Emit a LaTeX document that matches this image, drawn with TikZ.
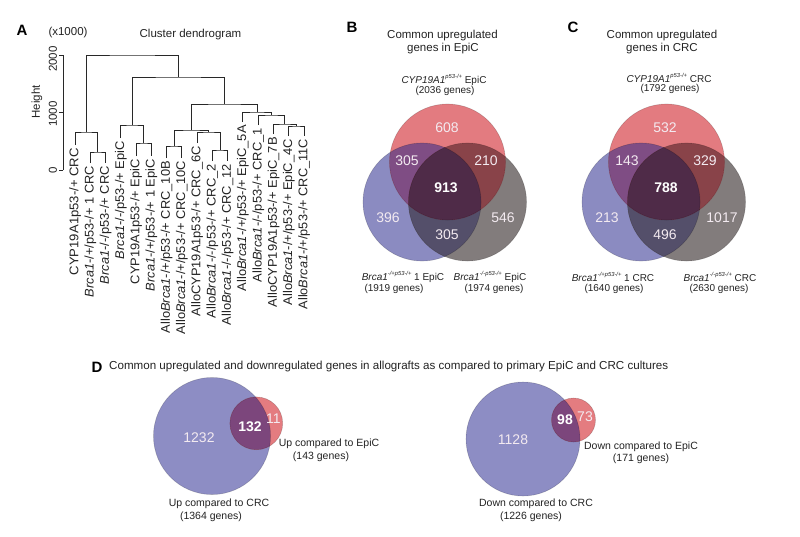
\documentclass[tikz,border=0pt]{standalone}
\usepackage{graphicx}
\usepackage{fontspec}
\setmainfont{Liberation Sans}
\definecolor{vBlue}{RGB}{139,139,193}
\definecolor{vRed}{RGB}{227,123,128}
\definecolor{vGray}{RGB}{130,124,124}
\definecolor{vBR}{RGB}{127,77,132}
\definecolor{vRG}{RGB}{137,67,73}
\definecolor{vBG}{RGB}{84,79,106}
\definecolor{vAll}{RGB}{79,43,72}
\definecolor{dBlue}{RGB}{141,141,196}
\definecolor{dRed}{RGB}{228,124,128}
\definecolor{dBR}{RGB}{124,70,124}
\definecolor{numtxt}{RGB}{243,234,240}
\definecolor{treecol}{RGB}{40,40,40}
\definecolor{txtcol}{RGB}{35,35,35}
\newcommand\supit[1]{\raisebox{0.42em}{\fontsize{5.8}{6}\selectfont\itshape #1}}
\newcommand\leaftext[2]{\resizebox{#1pt}{\height}{#2}}
\tikzset{
  every node/.style={inner sep=0pt, text=txtcol},
  panel/.style={font=\fontsize{15}{16}\selectfont\bfseries, text=black},
  ttl/.style={font=\fontsize{11.5}{13}\selectfont},
  axlbl/.style={font=\fontsize{11.5}{12}\selectfont, rotate=90},
  leaflbl/.style={rotate=90, anchor=east, font=\fontsize{12.6}{13}\selectfont},
  tree/.style={line width=1pt, draw=treecol},
  vlbl/.style={font=\fontsize{10}{11}\selectfont},
  dlbl/.style={font=\fontsize{10.5}{12}\selectfont},
  num/.style={font=\fontsize{14}{15}\selectfont, text=numtxt},
  bnum/.style={font=\fontsize{14}{15}\selectfont\bfseries, text=white},
  vedge/.style={draw=black, draw opacity=0.18, line width=0.6pt},
}
\newcommand\drawVennThree[1]{%
  \fill[vBlue] (#1l) circle (59);
  \fill[vGray] (#1r) circle (59);
  \fill[vRed] (#1t) circle (58);
  \begin{scope}\clip (#1l) circle (59); \fill[vBG] (#1r) circle (59);\end{scope}
  \begin{scope}\clip (#1l) circle (59); \fill[vBR] (#1t) circle (58);\end{scope}
  \begin{scope}\clip (#1r) circle (59); \fill[vRG] (#1t) circle (58);\end{scope}
  \begin{scope}\clip (#1l) circle (59); \clip (#1r) circle (59); \fill[vAll] (#1t) circle (58);\end{scope}
  \draw[vedge] (#1l) circle (59);
  \draw[vedge] (#1r) circle (59);
  \draw[vedge] (#1t) circle (58);
}
\begin{document}
\begin{tikzpicture}[x=1pt,y=-1pt]
\useasboundingbox (0,0) rectangle (800,536);
\fill[white] (0,0) rectangle (800,536);

% ================= Panel A =================
\node[panel] (pA) at (22,30) {A};
\node[ttl] (x1000) at (68,33) {(x1000)};
\node[ttl] (tA) at (190.5,35) {Cluster dendrogram};
\coordinate (ax0) at (63,170);
\coordinate (ax1) at (63,112.5);
\coordinate (ax2) at (63,55);
\draw[line width=0.8pt, treecol] (ax2) -- (ax0);
\foreach \c in {ax0,ax1,ax2} \draw[line width=0.8pt, treecol] (\c) -- ++(-4,0);
\node[axlbl] (tk0) at (53,170) {0};
\node[axlbl] (tk1) at (53,114) {1000};
\node[axlbl] (tk2) at (53,59) {2000};
\node[axlbl] (hgt) at (37,102) {Height};

% leaf tips
\coordinate (t0) at (75,145);
\coordinate (t1) at (90.27,163);
\coordinate (t2) at (105.54,163);
\coordinate (t3) at (120.81,138);
\coordinate (t4) at (136.08,156);
\coordinate (t5) at (151.35,156);
\coordinate (t6) at (166.62,158);
\coordinate (t7) at (181.89,158);
\coordinate (t8) at (197.16,143);
\coordinate (t9) at (212.43,161);
\coordinate (t10) at (227.7,161);
\coordinate (t11) at (242.97,122);
\coordinate (t12) at (258.24,125);
\coordinate (t13) at (273.51,134);
\coordinate (t14) at (288.78,136);
\coordinate (t15) at (304.05,136);
% merges
\coordinate (ma) at (97.9,152);
\coordinate (mb) at (86.45,132);
\coordinate (mc) at (143.7,143);
\coordinate (md) at (132.26,125);
\coordinate (me) at (174.26,146);
\coordinate (mf) at (220.07,150);
\coordinate (mg) at (208.6,132);
\coordinate (mh) at (191.43,130);
\coordinate (mi) at (296.4,126);
\coordinate (mj) at (284.96,124);
\coordinate (mk) at (271.6,115);
\coordinate (ml) at (257.29,112);
\coordinate (mm) at (224.36,104);
\coordinate (mn) at (178.31,77);
\coordinate (mroot) at (132.38,55);

\draw[tree] (t1) |- (ma) -| (t2);
\draw[tree] (t0) |- (mb) -| (ma);
\draw[tree] (t4) |- (mc) -| (t5);
\draw[tree] (t3) |- (md) -| (mc);
\draw[tree] (t6) |- (me) -| (t7);
\draw[tree] (t9) |- (mf) -| (t10);
\draw[tree] (t8) |- (mg) -| (mf);
\draw[tree] (me) |- (mh) -| (mg);
\draw[tree] (t14) |- (mi) -| (t15);
\draw[tree] (t13) |- (mj) -| (mi);
\draw[tree] (t12) |- (mk) -| (mj);
\draw[tree] (t11) |- (ml) -| (mk);
\draw[tree] (mh) |- (mm) -| (ml);
\draw[tree] (md) |- (mn) -| (mm);
\draw[tree] (mb) |- (mroot) -| (mn);

\node[leaflbl] (lab0) at ([yshift=-3pt]t0) {\leaftext{127}{CYP19A1p53-/+ CRC}};
\node[leaflbl] (lab1) at ([yshift=-3pt]t1) {\leaftext{131}{\textit{Brca1}-/+/p53-/+ 1 CRC}};
\node[leaflbl] (lab2) at ([yshift=-3pt]t2) {\leaftext{118}{\textit{Brca1}-/-/p53-/+ CRC}};
\node[leaflbl] (lab3) at ([yshift=-3pt]t3) {\leaftext{118}{\textit{Brca1}-/-/p53-/+ EpiC}};
\node[leaflbl] (lab4) at ([yshift=-3pt]t4) {\leaftext{125}{CYP19A1p53-/+ EpiC}};
\node[leaflbl] (lab5) at ([yshift=-3pt]t5) {\leaftext{132}{\textit{Brca1}-/+/p53-/+ 1 EpiC}};
\node[leaflbl] (lab6) at ([yshift=-3pt]t6) {\leaftext{172}{Allo\textit{Brca1}-/+/p53-/+ CRC\_10B}};
\node[leaflbl] (lab7) at ([yshift=-3pt]t7) {\leaftext{173}{Allo\textit{Brca1}-/+/p53-/+ CRC\_10C}};
\node[leaflbl] (lab8) at ([yshift=-3pt]t8) {\leaftext{170}{AlloCYP19A1p53-/+ CRC\_6C}};
\node[leaflbl] (lab9) at ([yshift=-3pt]t9) {\leaftext{154}{Allo\textit{Brca1}-/-/p53-/+ CRC\_2}};
\node[leaflbl] (lab10) at ([yshift=-3pt]t10) {\leaftext{161}{Allo\textit{Brca1}-/-/p53-/+ CRC\_12}};
\node[leaflbl] (lab11) at ([yshift=-3pt]t11) {\leaftext{166}{Allo\textit{Brca1}-/+/p53-/+ EpiC\_5A}};
\node[leaflbl] (lab12) at ([yshift=-3pt]t12) {\leaftext{154}{Allo\textit{Brca1}-/-/p53-/+ CRC\_1}};
\node[leaflbl] (lab13) at ([yshift=-3pt]t13) {\leaftext{170}{AlloCYP19A1p53-/+ EpiC\_7B}};
\node[leaflbl] (lab14) at ([yshift=-3pt]t14) {\leaftext{166}{Allo\textit{Brca1}-/+/p53-/+ EpiC\_4C}};
\node[leaflbl] (lab15) at ([yshift=-3pt]t15) {\leaftext{170}{Allo\textit{Brca1}-/+/p53-/+ CRC\_11C}};

% ================= Panel B =================
\node[panel] (pB) at (352,27) {B};
\node[ttl] (tB1) at (442.5,36) {Common upregulated};
\node[ttl] (tB2) at (443,49) {genes in EpiC};
\node[vlbl] (sBt1) at (444,80) {\textit{CYP19A1}\supit{p53-/+} EpiC};
\node[vlbl] (sBt2) at (445,91) {(2036 genes)};
\coordinate (Bt) at (447.5,162);
\coordinate (Bl) at (422,202);
\coordinate (Br) at (467.5,202);
\drawVennThree{B}
\node[num] (nB1) at (447,128) {608};
\node[num] (nB2) at (407,161) {305};
\node[num] (nB3) at (486,161) {210};
\node[bnum] (nB4) at (446,188) {913};
\node[num] (nB5) at (388,218) {396};
\node[num] (nB6) at (503,218) {546};
\node[num] (nB7) at (447,235) {305};
\node[vlbl] (sBl1) at (403,277) {\textit{Brca1}\supit{-/+p53-/+} 1 EpiC};
\node[vlbl] (sBl2) at (394,289) {(1919 genes)};
\node[vlbl] (sBr1) at (490,277) {\textit{Brca1}\supit{-/-p53-/+} EpiC};
\node[vlbl] (sBr2) at (494,289) {(1974 genes)};

% ================= Panel C =================
\node[panel] (pC) at (573,27) {C};
\node[ttl] (tC1) at (662,36) {Common upregulated};
\node[ttl] (tC2) at (662,49) {genes in CRC};
\node[vlbl] (sCt1) at (669,78) {\textit{CYP19A1}\supit{p53-/+} CRC};
\node[vlbl] (sCt2) at (670,89) {(1792 genes)};
\coordinate (Ct) at (666.5,162);
\coordinate (Cl) at (641,202);
\coordinate (Cr) at (686.5,202);
\drawVennThree{C}
\node[num] (nC1) at (665,128) {532};
\node[num] (nC2) at (627,161) {143};
\node[num] (nC3) at (705,161) {329};
\node[bnum] (nC4) at (666,188) {788};
\node[num] (nC5) at (607,218) {213};
\node[num] (nC6) at (722,218) {1017};
\node[num] (nC7) at (665,235) {496};
\node[vlbl] (sCl1) at (613,277) {\textit{Brca1}\supit{-/+p53-/+} 1 CRC};
\node[vlbl] (sCl2) at (614,289) {(1640 genes)};
\node[vlbl] (sCr1) at (720,277) {\textit{Brca1}\supit{-/-p53-/+} CRC};
\node[vlbl] (sCr2) at (719,289) {(2630 genes)};

% ================= Panel D =================
\node[panel] (pD) at (97,367) {D};
\node[ttl, anchor=west, font=\fontsize{11.6}{12}\selectfont] (tD) at (109,366.5) {Common upregulated and downregulated genes in allografts as compared to primary EpiC and CRC cultures};
% left pair
\coordinate (D1b) at (212,436);
\coordinate (D1s) at (256.3,423.3);
\fill[dBlue] (D1b) circle (58.5);
\fill[dRed] (D1s) circle (26.4);
\begin{scope}\clip (D1b) circle (58.5); \fill[dBR] (D1s) circle (26.4);\end{scope}
\draw[vedge] (D1b) circle (58.5);
\draw[vedge] (D1s) circle (26.4);
\node[num] (nD1) at (199,438) {1232};
\node[bnum] (nD2) at (250,427) {132};
\node[num] (nD3) at (273.5,419) {11};
\node[dlbl] (sD1a) at (329,444) {Up compared to EpiC};
\node[dlbl] (sD1b) at (321,457) {(143 genes)};
\node[dlbl] (sD1c) at (219,504) {Up compared to CRC};
\node[dlbl] (sD1d) at (211,517) {(1364 genes)};
% right pair
\coordinate (D2b) at (523,439);
\coordinate (D2s) at (573.5,420);
\fill[dBlue] (D2b) circle (57);
\fill[dRed] (D2s) circle (22);
\begin{scope}\clip (D2b) circle (57); \fill[dBR] (D2s) circle (22);\end{scope}
\draw[vedge] (D2b) circle (57);
\draw[vedge] (D2s) circle (22);
\node[num] (nD4) at (513,440) {1128};
\node[bnum] (nD5) at (565,420) {98};
\node[num] (nD6) at (585,417) {73};
\node[dlbl] (sD2a) at (641,447) {Down compared to EpiC};
\node[dlbl] (sD2b) at (641,459) {(171 genes)};
\node[dlbl] (sD2c) at (536,504) {Down compared to CRC};
\node[dlbl] (sD2d) at (531,517) {(1226 genes)};
\end{tikzpicture}
\end{document}
